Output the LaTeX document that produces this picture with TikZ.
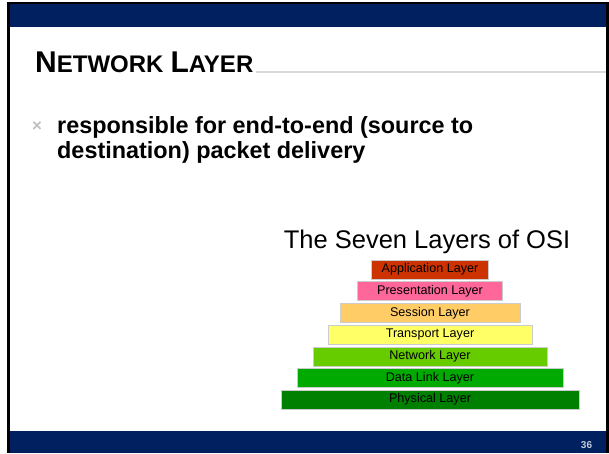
\documentclass[tikz,border=0pt]{standalone}
\usepackage{fontspec}
\setmainfont{Liberation Sans}
\definecolor{navy}{HTML}{002060}
\definecolor{appc}{HTML}{CC3300}
\definecolor{presc}{HTML}{FF6699}
\definecolor{sessc}{HTML}{FFCC66}
\definecolor{tranc}{HTML}{FFFF66}
\definecolor{netc}{HTML}{66CC00}
\definecolor{dlc}{HTML}{00AA00}
\definecolor{phyc}{HTML}{008000}
\definecolor{rulec}{HTML}{D9D9D9}
\definecolor{bulc}{HTML}{BFBFBF}
\definecolor{numc}{HTML}{C3CBDB}
\tikzset{
  layerbox/.style={draw=white!80!black, line width=0.6pt, minimum height=19pt, inner sep=0pt,
    font=\fontsize{12.6}{14}\selectfont, text=black},
  bodytext/.style={anchor=base west, inner sep=0pt, font=\bfseries\fontsize{23.4}{26}\selectfont}
}
\begin{document}
\begin{tikzpicture}[x=1pt,y=-1pt]
\useasboundingbox (0,0) rectangle (609,453);
\fill[white] (0,0) rectangle (609,453);
% frame
\fill[black] (7,2) rectangle (609,453);
\fill[white] (10,4) rectangle (606,453);
\fill[navy] (10,4) rectangle (606,27);
\fill[navy] (10,431) rectangle (606,453);
% title
\node[anchor=base west, inner sep=0pt, font=\bfseries] (title) at (35,72)
  {{\fontsize{30}{31}\selectfont N}{\fontsize{24}{25}\selectfont ETWORK}\hspace*{7pt}{\fontsize{30}{31}\selectfont L}{\fontsize{24}{25}\selectfont AYER}};
\coordinate (rs) at (256,72);
\coordinate (re) at (606,72);
\draw[rulec, line width=1.5pt] (rs) -- (re);
% bullet
\node[inner sep=0pt, text=bulc, font=\bfseries\fontsize{17}{18}\selectfont] (bul) at (37,127) {×};
\node[bodytext] (b1) at (57,133) {responsible for end-to-end (source to};
\node[bodytext] (b2) at (57,158) {destination) packet delivery};
% OSI heading
\node[anchor=base, inner sep=0pt, font=\fontsize{25.5}{28}\selectfont] (osi) at (427,248) {The Seven Layers of OSI};
% layers
\node[layerbox, fill=appc,  minimum width=116.6pt] (app)  at (430,269.5) {Application Layer};
\node[layerbox, fill=presc, minimum width=145.4pt] (pres) at (430,291.2) {Presentation Layer};
\node[layerbox, fill=sessc, minimum width=180pt]   (sess) at (430,312.9) {Session Layer};
\node[layerbox, fill=tranc, minimum width=204.4pt] (tran) at (430,334.6) {Transport Layer};
\node[layerbox, fill=netc,  minimum width=233.6pt] (net)  at (430,356.3) {Network Layer};
\node[layerbox, fill=dlc,   minimum width=266pt]   (dl)   at (430,378)   {Data Link Layer};
\node[layerbox, fill=phyc,  minimum width=298pt]   (phy)  at (430,399.7) {Physical Layer};
% page number
\node[inner sep=0pt, text=numc, font=\bfseries\fontsize{10}{12}\selectfont] (num) at (586.5,445) {36};
\end{tikzpicture}
\end{document}
